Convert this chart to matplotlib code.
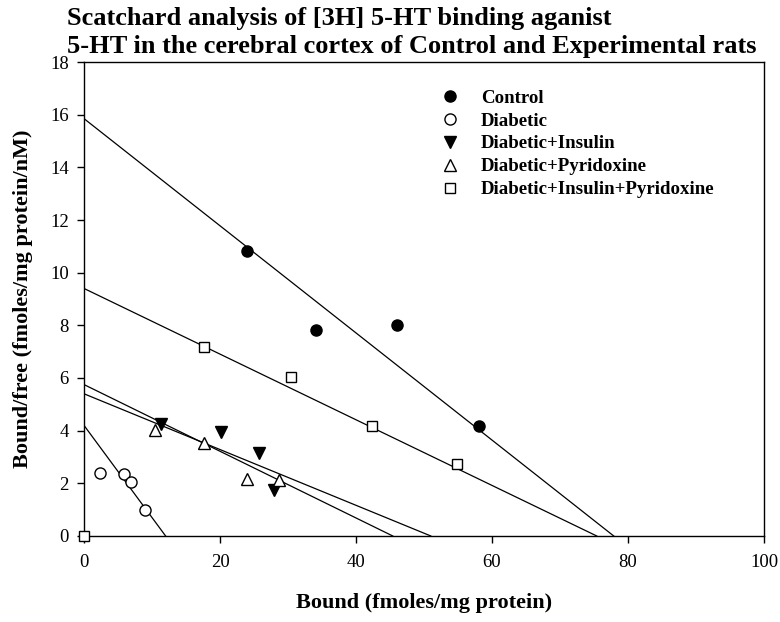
import matplotlib
matplotlib.use("Agg")
import matplotlib.pyplot as plt

plt.rcParams["font.family"] = ["Liberation Serif", "DejaVu Serif"]

# Bound (fmoles/mg protein) and Bound/free for each group
control_x = [23.9, 34.1, 46.0, 58.1]
control_y = [10.82, 7.81, 8.01, 4.19]

diabetic_x = [2.4, 5.9, 6.9, 9.0]
diabetic_y = [2.40, 2.37, 2.04, 1.00]

insulin_x = [11.3, 20.1, 25.7, 28.0]
insulin_y = [4.24, 3.94, 3.14, 1.75]

pyridoxine_x = [10.4, 17.7, 24.0, 28.7]
pyridoxine_y = [4.03, 3.52, 2.15, 2.13]

ins_pyr_x = [0.0, 17.6, 30.4, 42.4, 54.9]
ins_pyr_y = [0.0, 7.19, 6.04, 4.19, 2.73]

# Scatchard fits: y-intercept (Bmax/Kd) and x-intercept (Bmax)
fit_intercept = [15.85, 4.2, 5.75, 5.4, 9.4]
fit_bmax = [77.9, 12.0, 45.4, 51.0, 75.4]

labels = ["Control", "Diabetic", "Diabetic+Insulin", "Diabetic+Pyridoxine",
          "Diabetic+Insulin+Pyridoxine"]

title_lines = ["Scatchard analysis of [3H] 5-HT binding aganist",
               "5-HT in the cerebral cortex of Control and Experimental rats"]

series = [
    (control_x, control_y, "o", "black"),
    (diabetic_x, diabetic_y, "o", "white"),
    (insulin_x, insulin_y, "v", "black"),
    (pyridoxine_x, pyridoxine_y, "^", "white"),
    (ins_pyr_x, ins_pyr_y, "s", "white"),
]

fig = plt.figure(figsize=(7.8, 6.22), dpi=100)
ax = fig.add_axes([0.1077, 0.1383, 0.8718, 0.762])

for b0, bmax in zip(fit_intercept, fit_bmax):
    ax.plot([0, bmax], [b0, 0], color="black", lw=0.9, zorder=2)

handles = []
for (xs, ys, mk, fc), lab in zip(series, labels):
    h, = ax.plot(xs, ys, linestyle="none", marker=mk, ms=8 if mk != "s" else 7.5,
                 mfc=fc, mec="black", mew=1.0, label=lab, zorder=3,
                 clip_on=False)
    handles.append(h)

ax.set_xlim(0, 100)
ax.set_ylim(0, 18)
ax.set_xticks(range(0, 101, 20))
ax.set_yticks(range(0, 19, 2))
ax.tick_params(direction="out", length=5, width=1, labelsize=13.5,
               top=False, right=False)
ax.tick_params(axis="x", pad=8)
ax.tick_params(axis="y", pad=6)
for sp in ax.spines.values():
    sp.set_linewidth(1.0)

ax.set_xlabel("Bound (fmoles/mg protein)", fontsize=16, fontweight="bold",
              labelpad=16)
ax.set_ylabel("Bound/free (fmoles/mg protein/nM)", fontsize=16,
              fontweight="bold", labelpad=12)

# two-line heading, left aligned just past the top tick label
fig.text(0.086, 1 - 25 / 622, title_lines[0], fontsize=19, fontweight="bold",
         ha="left", va="baseline")
fig.text(0.086, 1 - 53 / 622, title_lines[1], fontsize=19, fontweight="bold",
         ha="left", va="baseline")

ax.legend(handles=handles, loc="upper left", bbox_to_anchor=(0.513, 0.958),
          frameon=False, borderaxespad=0, prop={"weight": "bold", "size": 13.6},
          handletextpad=1.14, labelspacing=0.3, handlelength=1.0)

fig.savefig("out.png", dpi=100)
